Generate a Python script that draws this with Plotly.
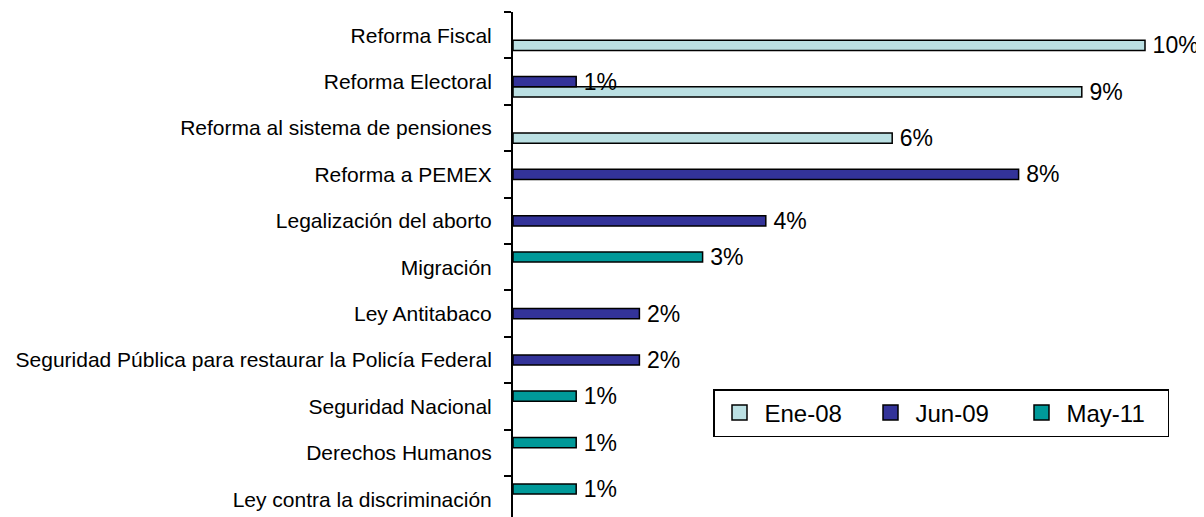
import plotly.graph_objects as go

categories = [
    "Reforma Fiscal",
    "Reforma Electoral",
    "Reforma al sistema de pensiones",
    "Reforma a PEMEX",
    "Legalización del aborto",
    "Migración",
    "Ley Antitabaco",
    "Seguridad Pública para restaurar la Policía Federal",
    "Seguridad Nacional",
    "Derechos Humanos",
    "Ley contra la discriminación",
]
series_names = ["Ene-08", "Jun-09", "May-11"]
ene08 = [10, 9, 6, None, None, None, None, None, None, None, None]
jun09 = [None, 1, None, 8, 4, None, 2, 2, None, None, None]
may11 = [None, None, None, None, None, 3, None, None, 1, 1, 1]
colors = ["#BBE0E3", "#333399", "#009999"]

FONT = "Liberation Sans, Arial, sans-serif"

# page body has an 8px default margin; figure is sized/positioned to compensate
W, H = 1196, 509
L, T = 505, 4
PW, PH = W - L, H - T
PX_PER_CAT = 46.4
bottom_cat = -0.5 + (522.4 - 517) / PX_PER_CAT

fig = go.Figure()
for name, vals, col in zip(series_names, [ene08, jun09, may11], colors):
    fig.add_trace(go.Bar(
        name=name,
        y=categories,
        x=vals,
        orientation="h",
        marker=dict(color=col, line=dict(color="black", width=1.5)),
        text=[f"\u2009{v:.0f}%" if v is not None else "" for v in vals],
        textposition="outside",
        textfont=dict(family=FONT, size=23, color="black"),
        constraintext="none",
        cliponaxis=False,
        hoverinfo="skip",
        showlegend=False,
    ))
# legend entries with larger square swatches
for name, col in zip(series_names, colors):
    fig.add_trace(go.Scatter(
        name=name, x=[None], y=[None], mode="markers",
        marker=dict(symbol="square", size=15, color=col, line=dict(color="black", width=1.5)),
        showlegend=True, hoverinfo="skip",
    ))

fig.update_layout(
    width=W, height=H,
    margin=dict(l=L, r=0, t=T, b=0, autoexpand=False),
    paper_bgcolor="white", plot_bgcolor="white",
    barmode="group", bargap=0.34, bargroupgap=0,
    font=dict(family=FONT, color="black"),
    showlegend=True,
    legend=dict(
        orientation="h",
        x=(713 - 513) / PW, y=(517 - 389) / PH,
        xanchor="left", yanchor="top",
        bordercolor="black", borderwidth=1.5,
        bgcolor="white",
        font=dict(family=FONT, size=24, color="black"),
        entrywidth=96,
        itemwidth=40,
    ),
)
fig.update_xaxes(
    range=[0, PW / 63.2], visible=False, showgrid=False, zeroline=False,
)
fig.update_yaxes(
    type="category",
    categoryorder="array", categoryarray=categories[::-1],
    range=[bottom_cat, 10.5],
    showline=True, linecolor="black", linewidth=2,
    ticks="outside", tickson="boundaries", ticklen=7, tickwidth=1.5, tickcolor="black",
    ticklabelstandoff=15,
    tickfont=dict(family=FONT, size=21, color="black"),
    showgrid=False, zeroline=False,
    automargin=False,
)

fig.write_html("out.html")
